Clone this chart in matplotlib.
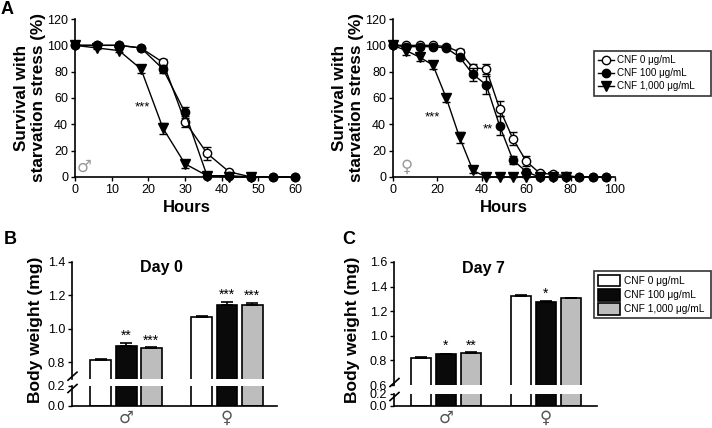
import matplotlib
matplotlib.use("Agg")
import matplotlib.pyplot as plt
from matplotlib.lines import Line2D
from matplotlib.patches import Patch
import numpy as np

plt.rcParams['font.family'] = ['Liberation Sans', 'DejaVu Sans']

# ---------------- data ----------------
groups = ["CNF 0 \u03bcg/mL", "CNF 100 \u03bcg/mL", "CNF 1,000 \u03bcg/mL"]

male_hours = [0, 6, 12, 18, 24, 30, 36, 42, 48, 54, 60]
male_cnf0 = [100, 100, 100, 98, 87, 42, 18, 4, 0, 0, 0]
male_cnf0_err = [0, 0, 0, 1, 3, 4, 5, 1, 0, 0, 0]
male_cnf100 = [100, 100, 100, 98, 82, 49, 1, 1, 0, 0, 0]
male_cnf100_err = [0, 0, 0, 1, 3, 4, 0, 0, 0, 0, 0]
male_cnf1000 = [100, 98, 96, 82, 37, 10, 1, 0, 0]
male_cnf1000_err = [0, 1, 1, 3, 4, 3, 0, 0, 0]

female_hours = [0, 6, 12, 18, 24, 30, 36, 42, 48, 54, 60, 66, 72, 78, 84, 90, 96]
female_cnf0 = [100, 100, 100, 100, 99, 95, 83, 82, 52, 29, 12, 3, 2, 1, 0, 0, 0]
female_cnf0_err = [0, 0, 0, 0, 1, 2, 3, 4, 6, 5, 4, 1, 1, 1, 0, 0, 0]
female_cnf100 = [100, 99, 99, 99, 98, 91, 78, 70, 39, 13, 4, 0, 0, 0, 0, 0, 0]
female_cnf100_err = [0, 1, 1, 1, 1, 2, 5, 7, 7, 3, 2, 0, 0, 0, 0, 0, 0]
female_cnf1000 = [100, 96, 91, 85, 60, 30, 5, 0, 0, 0, 0, 0, 0, 0]
female_cnf1000_err = [0, 3, 3, 3, 3, 4, 2, 0, 0, 0, 0, 0, 0, 0]

sexes = ["\u2642", "\u2640"]
day0_weight = [[0.810, 0.895, 0.883], [1.070, 1.145, 1.145]]
day0_err = [[0.006, 0.020, 0.006], [0.005, 0.015, 0.008]]
day0_stars = [["", "**", "***"], ["", "***", "***"]]
day7_weight = [[0.822, 0.850, 0.860], [1.322, 1.275, 1.305]]
day7_err = [[0.006, 0.005, 0.008], [0.007, 0.005, 0.006]]
day7_stars = [["", "*", "**"], ["", "*", ""]]

bar_colors = ["white", "#0a0a0a", "#bdbdbd"]

W, H = 712, 428
fig = plt.figure(figsize=(W / 100, H / 100), dpi=100)


def fx(px):
    return px / W


def fy(py):
    return 1 - py / H


def axes_px(x0, y0, x1, y1):
    return fig.add_axes([fx(x0), fy(y1), fx(x1 - x0), (y1 - y0) / H])


TICK_FS = 9
LABEL_FS = 12.3

# ---------------- Panel A ----------------
def survival(ax, hours, series, errs, xmax, xticks, stars, sexsym, sexpos):
    styles = [
        dict(marker='o', mfc='white', mec='black', ms=6),
        dict(marker='o', mfc='black', mec='black', ms=6),
        dict(marker='v', mfc='black', mec='black', ms=6.5),
    ]
    order = [2, 0, 1]
    for i in order:
        y = series[i]
        x = hours[:len(y)]
        ax.errorbar(x, y, yerr=errs[i], color='black', lw=1.0, capsize=3,
                    elinewidth=1.0, capthick=1.0, clip_on=False, zorder=3 + i,
                    mew=1.0, **styles[i])
    ax.set_xlim(0, xmax)
    ax.set_ylim(0, 120)
    ax.set_xticks(xticks)
    ax.set_yticks([0, 20, 40, 60, 80, 100, 120])
    for s in ['top', 'right']:
        ax.spines[s].set_visible(False)
    for s in ['left', 'bottom']:
        ax.spines[s].set_linewidth(1.2)
    ax.tick_params(labelsize=TICK_FS, length=3, width=1.0, pad=2)
    ax.set_xlabel("Hours", fontsize=12, fontweight='bold', labelpad=3)
    ax.set_ylabel("Survival with\nstarvation stress (%)", fontsize=LABEL_FS,
                  fontweight='bold', labelpad=1, linespacing=1.1)
    for (sx, sy, txt) in stars:
        ax.text(sx, sy, txt, fontsize=9.5, ha='center', va='center')
    ax.text(sexpos[0], sexpos[1], sexsym, fontsize=12, ha='center',
            va='center', color='#9a9a9a', family=['DejaVu Sans'])


axA1 = axes_px(75, 19, 298.7, 177)
survival(axA1, male_hours, [male_cnf0, male_cnf100, male_cnf1000],
         [male_cnf0_err, male_cnf100_err, male_cnf1000_err], 61,
         [0, 10, 20, 30, 40, 50, 60], [(18.3, 53, "***")], sexes[0], (2.5, 8))

axA2 = axes_px(393, 19, 615, 177)
survival(axA2, female_hours, [female_cnf0, female_cnf100, female_cnf1000],
         [female_cnf0_err, female_cnf100_err, female_cnf1000_err], 100,
         [0, 20, 40, 60, 80, 100], [(17.6, 45, "***"), (42.8, 36, "**")],
         sexes[1], (6.3, 8))

handlesA = [
    Line2D([], [], color='black', lw=1.0, marker='o', mfc='white', mec='black', ms=6),
    Line2D([], [], color='black', lw=1.0, marker='o', mfc='black', mec='black', ms=6),
    Line2D([], [], color='black', lw=1.0, marker='v', mfc='black', mec='black', ms=6.5),
]
legA = fig.legend(handlesA, groups, loc='upper left',
                  bbox_to_anchor=(fx(594), fy(51), fx(711) - fx(594), 0.0),
                  mode='expand', fontsize=7.1, frameon=True, fancybox=False,
                  edgecolor='black', handlelength=1.6, handletextpad=0.3,
                  borderpad=0.45, labelspacing=0.3, borderaxespad=0)
legA.get_frame().set_linewidth(1.2)

# ---------------- Panels B & C ----------------
def bar_panel(top_box, bot_box, top_lim, top_ticks, bot_lim, bot_ticks, xlim,
              weights, errs, stars, star_y, title, title_y):
    ax_t = axes_px(*top_box)
    ax_b = axes_px(*bot_box)
    offsets = [-1, 0, 1]
    centers = [0, 4]
    for ax in (ax_t, ax_b):
        for gi, c in enumerate(centers):
            for bi in range(3):
                ax.bar(c + offsets[bi], weights[gi][bi], width=0.83,
                       color=bar_colors[bi], edgecolor='black', linewidth=1.2,
                       zorder=2)
        ax.set_xlim(*xlim)
        for s in ['top', 'right']:
            ax.spines[s].set_visible(False)
        ax.spines['left'].set_linewidth(1.2)
        ax.tick_params(labelsize=TICK_FS, length=3, width=1.0, pad=2)
    for gi, c in enumerate(centers):
        for bi in range(3):
            ax_t.errorbar(c + offsets[bi], weights[gi][bi],
                          yerr=[[0], [errs[gi][bi]]], color='black', lw=1.2,
                          capsize=4, capthick=1.2, zorder=3)
            if stars[gi][bi]:
                ax_t.text(c + offsets[bi], star_y[gi][bi], stars[gi][bi],
                          fontsize=10, ha='center', va='center')
    ax_t.set_ylim(*top_lim)
    ax_t.set_yticks(top_ticks)
    ax_t.set_yticklabels([f"{t:.1f}" for t in top_ticks])
    ax_t.spines['bottom'].set_visible(False)
    ax_t.set_xticks([])
    ax_b.set_ylim(*bot_lim)
    ax_b.set_yticks(bot_ticks)
    ax_b.set_yticklabels([f"{t:.1f}" for t in bot_ticks])
    ax_b.spines['bottom'].set_linewidth(1.2)
    ax_b.set_xticks(centers)
    ax_b.set_xticklabels(sexes, fontsize=12, color='#555555',
                         family=['DejaVu Sans'])
    ax_b.tick_params(axis='x', length=0, pad=2)
    ax_t.text(np.mean(xlim) - 0.5, title_y, title, fontsize=11.5,
              fontweight='bold', ha='center', va='center')
    # break marks
    for ax, yb, dy in ((ax_t, 0.0, 2.5), (ax_b, 1.0, -2.5)):
        x0 = ax.transAxes.transform((0, yb))
        cx, cy = x0[0] + 0.5, x0[1] + dy
        pts = fig.transFigure.inverted().transform(
            [[cx - 4.5, cy - 4], [cx + 4.5, cy + 4]])
        fig.add_artist(Line2D(pts[:, 0], pts[:, 1], color='black', lw=1.2))
    return ax_t, ax_b


bar_panel((72, 262, 277, 378.7), (72, 386, 277, 406), (0.7, 1.4),
          [0.8, 1.0, 1.2, 1.4], (0, 0.2), [0.0, 0.2], (-2.14, 5.98),
          day0_weight, day0_err, day0_stars,
          [[0, 0.958, 0.928], [0, 1.205, 1.2]], "Day 0", 1.37)

bar_panel((394, 262, 597, 385), (394, 394, 597, 406), (0.6, 1.6),
          [0.6, 0.8, 1.0, 1.2, 1.4, 1.6], (0, 0.2), [0.0, 0.2], (-2.08, 6.04),
          day7_weight, day7_err, day7_stars,
          [[0, 0.915, 0.922], [0, 1.345, 0]], "Day 7", 1.55)

fig.text(fx(36), fy(330), "Body weight (mg)", rotation=90, fontsize=12.5,
         fontweight='bold', ha='center', va='center')
fig.text(fx(352), fy(330), "Body weight (mg)", rotation=90, fontsize=12.5,
         fontweight='bold', ha='center', va='center')

handlesC = [Patch(facecolor=c, edgecolor='black', linewidth=1.2) for c in bar_colors]
legC = fig.legend(handlesC, groups, loc='upper left',
                  bbox_to_anchor=(fx(594), fy(271), fx(711) - fx(594), 0.0),
                  mode='expand', fontsize=7.3, frameon=True, fancybox=False,
                  edgecolor='black', handlelength=2.2, handleheight=1.4,
                  handletextpad=0.4, borderpad=0.35, labelspacing=0.25,
                  borderaxespad=0)
legC.get_frame().set_linewidth(1.2)

# panel letters
fig.text(fx(1), fy(10), "A", fontsize=13, fontweight='bold', ha='left', va='center')
fig.text(fx(4), fy(240), "B", fontsize=13, fontweight='bold', ha='left', va='center')
fig.text(fx(342), fy(240), "C", fontsize=13, fontweight='bold', ha='left', va='center')

fig.savefig("out.png", dpi=100)
